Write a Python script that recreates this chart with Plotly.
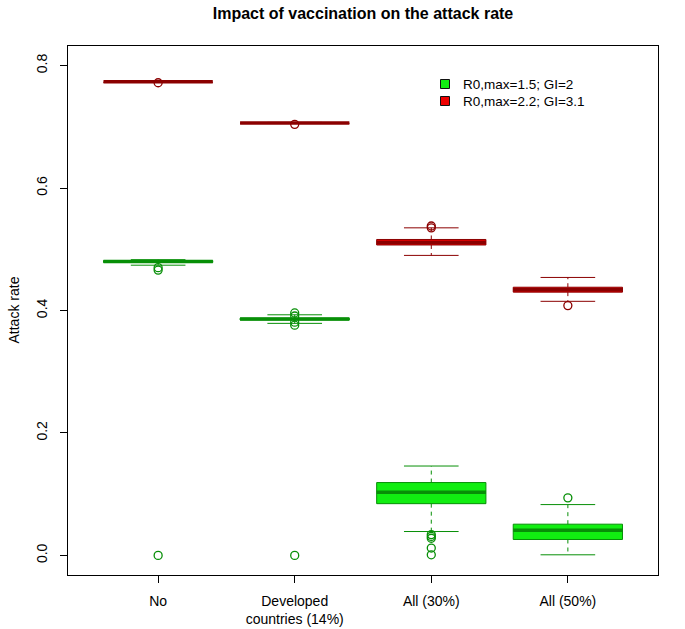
import plotly.graph_objects as go

# ---- data ----
categories = ["No", "Developed<br>countries (14%)", "All (30%)", "All (50%)"]
positions = [1, 2, 3, 4]

# series A: R0,max=1.5; GI=2
a_lower = [0.474, 0.379, 0.039, 0.001]
a_q1 = [0.4785, 0.3845, 0.0845, 0.026]
a_median = [0.480, 0.386, 0.103, 0.041]
a_q3 = [0.4815, 0.3875, 0.119, 0.051]
a_upper = [0.483, 0.393, 0.146, 0.083]
a_outliers = [[0.470, 0.466, 0.0],
              [0.396, 0.391, 0.381, 0.376, 0.0],
              [0.034, 0.031, 0.028, 0.012, 0.001],
              [0.094]]

# series B: R0,max=2.2; GI=3.1
b_lower = [0.7725, 0.7055, 0.490, 0.415]
b_q1 = [0.7728, 0.7058, 0.507, 0.430]
b_median = [0.7735, 0.7063, 0.511, 0.434]
b_q3 = [0.7740, 0.7068, 0.516, 0.438]
b_upper = [0.7745, 0.7072, 0.535, 0.454]
b_outliers = [[0.772], [0.704], [0.538, 0.535], [0.408]]

legend_labels = ["R0,max=1.5; GI=2", "R0,max=2.2; GI=3.1"]

series = [
    dict(name=legend_labels[0], fill="#11EE11", border="#078F07",
         lower=a_lower, q1=a_q1, med=a_median, q3=a_q3, upper=a_upper, out=a_outliers),
    dict(name=legend_labels[1], fill="#EE0000", border="#8B0000",
         lower=b_lower, q1=b_q1, med=b_median, q3=b_q3, upper=b_upper, out=b_outliers),
]

# ---- style ----
HALF_BOX = 0.4
HALF_STAPLE = 0.2
FONT = "Liberation Sans, Arial, Helvetica, sans-serif"
W, H = 685, 629
ML, MR, MT, MB = 68, 27, 46, 54
PW, PH = W - ML - MR, H - MT - MB


def px_x(px):
    return (px - ML) / PW


def px_y(py):
    return (H - MB - py) / PH


fig = go.Figure()

for s in series:
    for i, x in enumerate(positions):
        # box
        fig.add_trace(go.Scatter(
            x=[x - HALF_BOX, x + HALF_BOX, x + HALF_BOX, x - HALF_BOX, x - HALF_BOX],
            y=[s["q1"][i], s["q1"][i], s["q3"][i], s["q3"][i], s["q1"][i]],
            mode="lines", fill="toself", fillcolor=s["fill"],
            line=dict(color=s["border"], width=1), showlegend=False, hoverinfo="skip"))
        # whiskers (dashed)
        fig.add_trace(go.Scatter(
            x=[x, x, None, x, x],
            y=[s["q3"][i], s["upper"][i], None, s["q1"][i], s["lower"][i]],
            mode="lines", line=dict(color=s["border"], width=1, dash="4px,4px"),
            showlegend=False, hoverinfo="skip"))
        # staples
        fig.add_trace(go.Scatter(
            x=[x - HALF_STAPLE, x + HALF_STAPLE, None, x - HALF_STAPLE, x + HALF_STAPLE],
            y=[s["upper"][i], s["upper"][i], None, s["lower"][i], s["lower"][i]],
            mode="lines", line=dict(color=s["border"], width=1),
            showlegend=False, hoverinfo="skip"))
        # median
        fig.add_trace(go.Scatter(
            x=[x - HALF_BOX, x + HALF_BOX],
            y=[s["med"][i], s["med"][i]],
            mode="lines", line=dict(color=s["border"], width=3.5),
            showlegend=False, hoverinfo="skip"))
        # outliers
        fig.add_trace(go.Scatter(
            x=[x] * len(s["out"][i]), y=s["out"][i], mode="markers",
            marker=dict(symbol="circle-open", size=8, color=s["border"],
                        line=dict(width=1.3, color=s["border"])),
            showlegend=False, hoverinfo="skip"))

# manual legend (R-style), positioned in paper coordinates
shapes = []
annotations = []
legend_rows_px = [84, 101]
for s, row in zip(series, legend_rows_px):
    shapes.append(dict(type="rect", xref="paper", yref="paper",
                       x0=px_x(440.5), x1=px_x(449.5), y0=px_y(row + 4.5), y1=px_y(row - 4.5),
                       fillcolor=s["fill"], line=dict(color="#111111", width=1)))
    annotations.append(dict(text=s["name"], xref="paper", yref="paper",
                            x=px_x(461), y=px_y(row), xanchor="left", yanchor="middle",
                            showarrow=False, font=dict(size=13.5, family=FONT, color="black")))

# y axis title
annotations.append(dict(text="Attack rate", xref="paper", yref="paper",
                        x=px_x(13), y=0.5, xanchor="center", yanchor="middle",
                        textangle=-90, showarrow=False,
                        font=dict(size=14, family=FONT, color="black")))

fig.update_layout(
    width=W, height=H,
    paper_bgcolor="white", plot_bgcolor="white",
    margin=dict(l=ML, r=MR, t=MT, b=MB, autoexpand=False),
    font=dict(family=FONT, size=14, color="black"),
    title=dict(text="<b>Impact of vaccination on the attack rate</b>",
               xref="paper", x=0.5, xanchor="center",
               yref="container", y=1 - 13 / H, yanchor="middle",
               font=dict(size=16, family=FONT)),
    showlegend=False,
    shapes=shapes,
    annotations=annotations,
)

fig.update_xaxes(
    range=[0.34, 4.66], tickmode="array", tickvals=positions, ticktext=categories,
    showgrid=False, zeroline=False, showline=True, linecolor="black", linewidth=1,
    mirror=True, ticks="outside", ticklen=7, tickcolor="black", automargin=False,
    ticklabelstandoff=6,
    tickfont=dict(size=14, family=FONT))
fig.update_yaxes(
    range=[-0.032, 0.832], tickmode="array", tickvals=[0.0, 0.2, 0.4, 0.6, 0.8],
    ticktext=["0.0", "0.2", "0.4", "0.6", "0.8"], tickangle=-90,
    showgrid=False, zeroline=False, showline=True, linecolor="black", linewidth=1,
    mirror=True, ticks="outside", ticklen=7, tickcolor="black", automargin=False,
    ticklabelstandoff=7,
    tickfont=dict(size=14, family=FONT))

# remove the browser's default 8px body margin so the figure sits at the window corner
fig.write_html("out.html", config={"displayModeBar": False},
               post_script="document.body.style.margin='0px';")
